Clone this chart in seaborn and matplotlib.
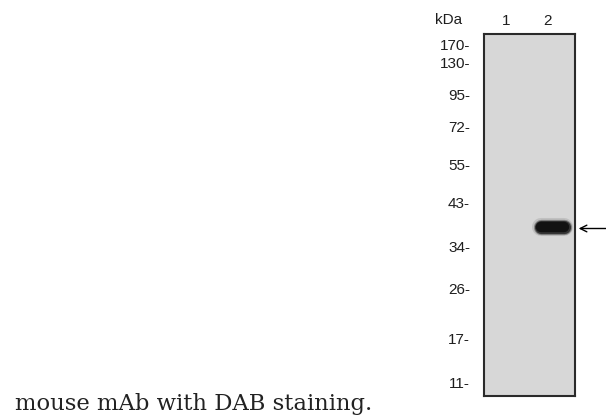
import pandas as pd
import matplotlib.pyplot as plt
import seaborn as sns

# ------------------------------
# blot content (positions read in pixels from the top of the membrane)

LANES = ["1", "2"]
LANE_X = [1, 2]
MARKER_KDA = ["170", "130", "95", "72", "55", "43", "34", "26", "17", "11"]
MARKER_POS = [11, 28, 61, 93, 131, 168, 213, 255, 305, 348]
BAND_LANE = 2
BAND_KDA = 37
BAND_POS = 193
CAPTION = "mouse mAb with DAB staining."

MEMBRANE = "#d7d7d7"
INK = "#1e1e1e"

sns.set_style("white")
plt.rcParams["font.family"] = ["Liberation Sans", "DejaVu Sans"]

DPI = 100
W, H = 606, 416
fig = plt.figure(figsize=(W / DPI, H / DPI), dpi=DPI)

# membrane box: 484..575 px horizontally, 34..396 px vertically
ax = fig.add_axes([484 / W, (H - 396) / H, 91 / W, 362 / H])
ax.set_facecolor(MEMBRANE)
for s in ax.spines.values():
    s.set_visible(True)
    s.set_color("#2a2a2a")
    s.set_linewidth(1.5)

# the band, a stack of thick round-capped lines for a soft edge
band_x = BAND_LANE + 0.1
half = 0.27
band = pd.DataFrame({"x": [band_x - half, band_x + half], "y": [BAND_POS, BAND_POS]})
for lw, alpha, col in [(13, 0.2, "#666666"), (11, 0.45, "#3a3a3a"),
                       (9.5, 0.8, "#222222"), (7.5, 1.0, "#121212")]:
    sns.lineplot(data=band, x="x", y="y", ax=ax, color=col, alpha=alpha,
                 linewidth=lw, solid_capstyle="round", legend=False)

ax.set_xlim(0.476, 2.643)
ax.set_ylim(362, 0)

# marker ladder as left tick labels
ax.set_yticks(MARKER_POS)
ax.set_yticklabels([f"{m}-" for m in MARKER_KDA])
ax.tick_params(axis="y", length=0, pad=10, labelsize=11, labelcolor=INK)

# lane numbers on top
ax.xaxis.tick_top()
ax.set_xticks(LANE_X)
ax.set_xticklabels(LANES)
ax.tick_params(axis="x", length=0, pad=4, labelsize=11, labelcolor=INK)
ax.set_xlabel("")
ax.set_ylabel("")

ax.text(-0.54, 1.04, "kDa", transform=ax.transAxes, ha="left", va="center",
        fontsize=11, color=INK)

# arrow pointing at the band
ax.annotate("", xy=(1.04, BAND_POS + 1.5), xytext=(1.34, BAND_POS + 1.5),
            xycoords=("axes fraction", "data"), textcoords=("axes fraction", "data"),
            arrowprops=dict(arrowstyle="->", color="black", lw=1.0,
                            mutation_scale=12, shrinkA=0, shrinkB=0),
            annotation_clip=False)

fig.text(15 / W, (H - 410) / H, CAPTION, ha="left", va="baseline",
         fontsize=16.3, color="#222222", family=["DejaVu Serif"])

fig.savefig("out.png", dpi=DPI)
